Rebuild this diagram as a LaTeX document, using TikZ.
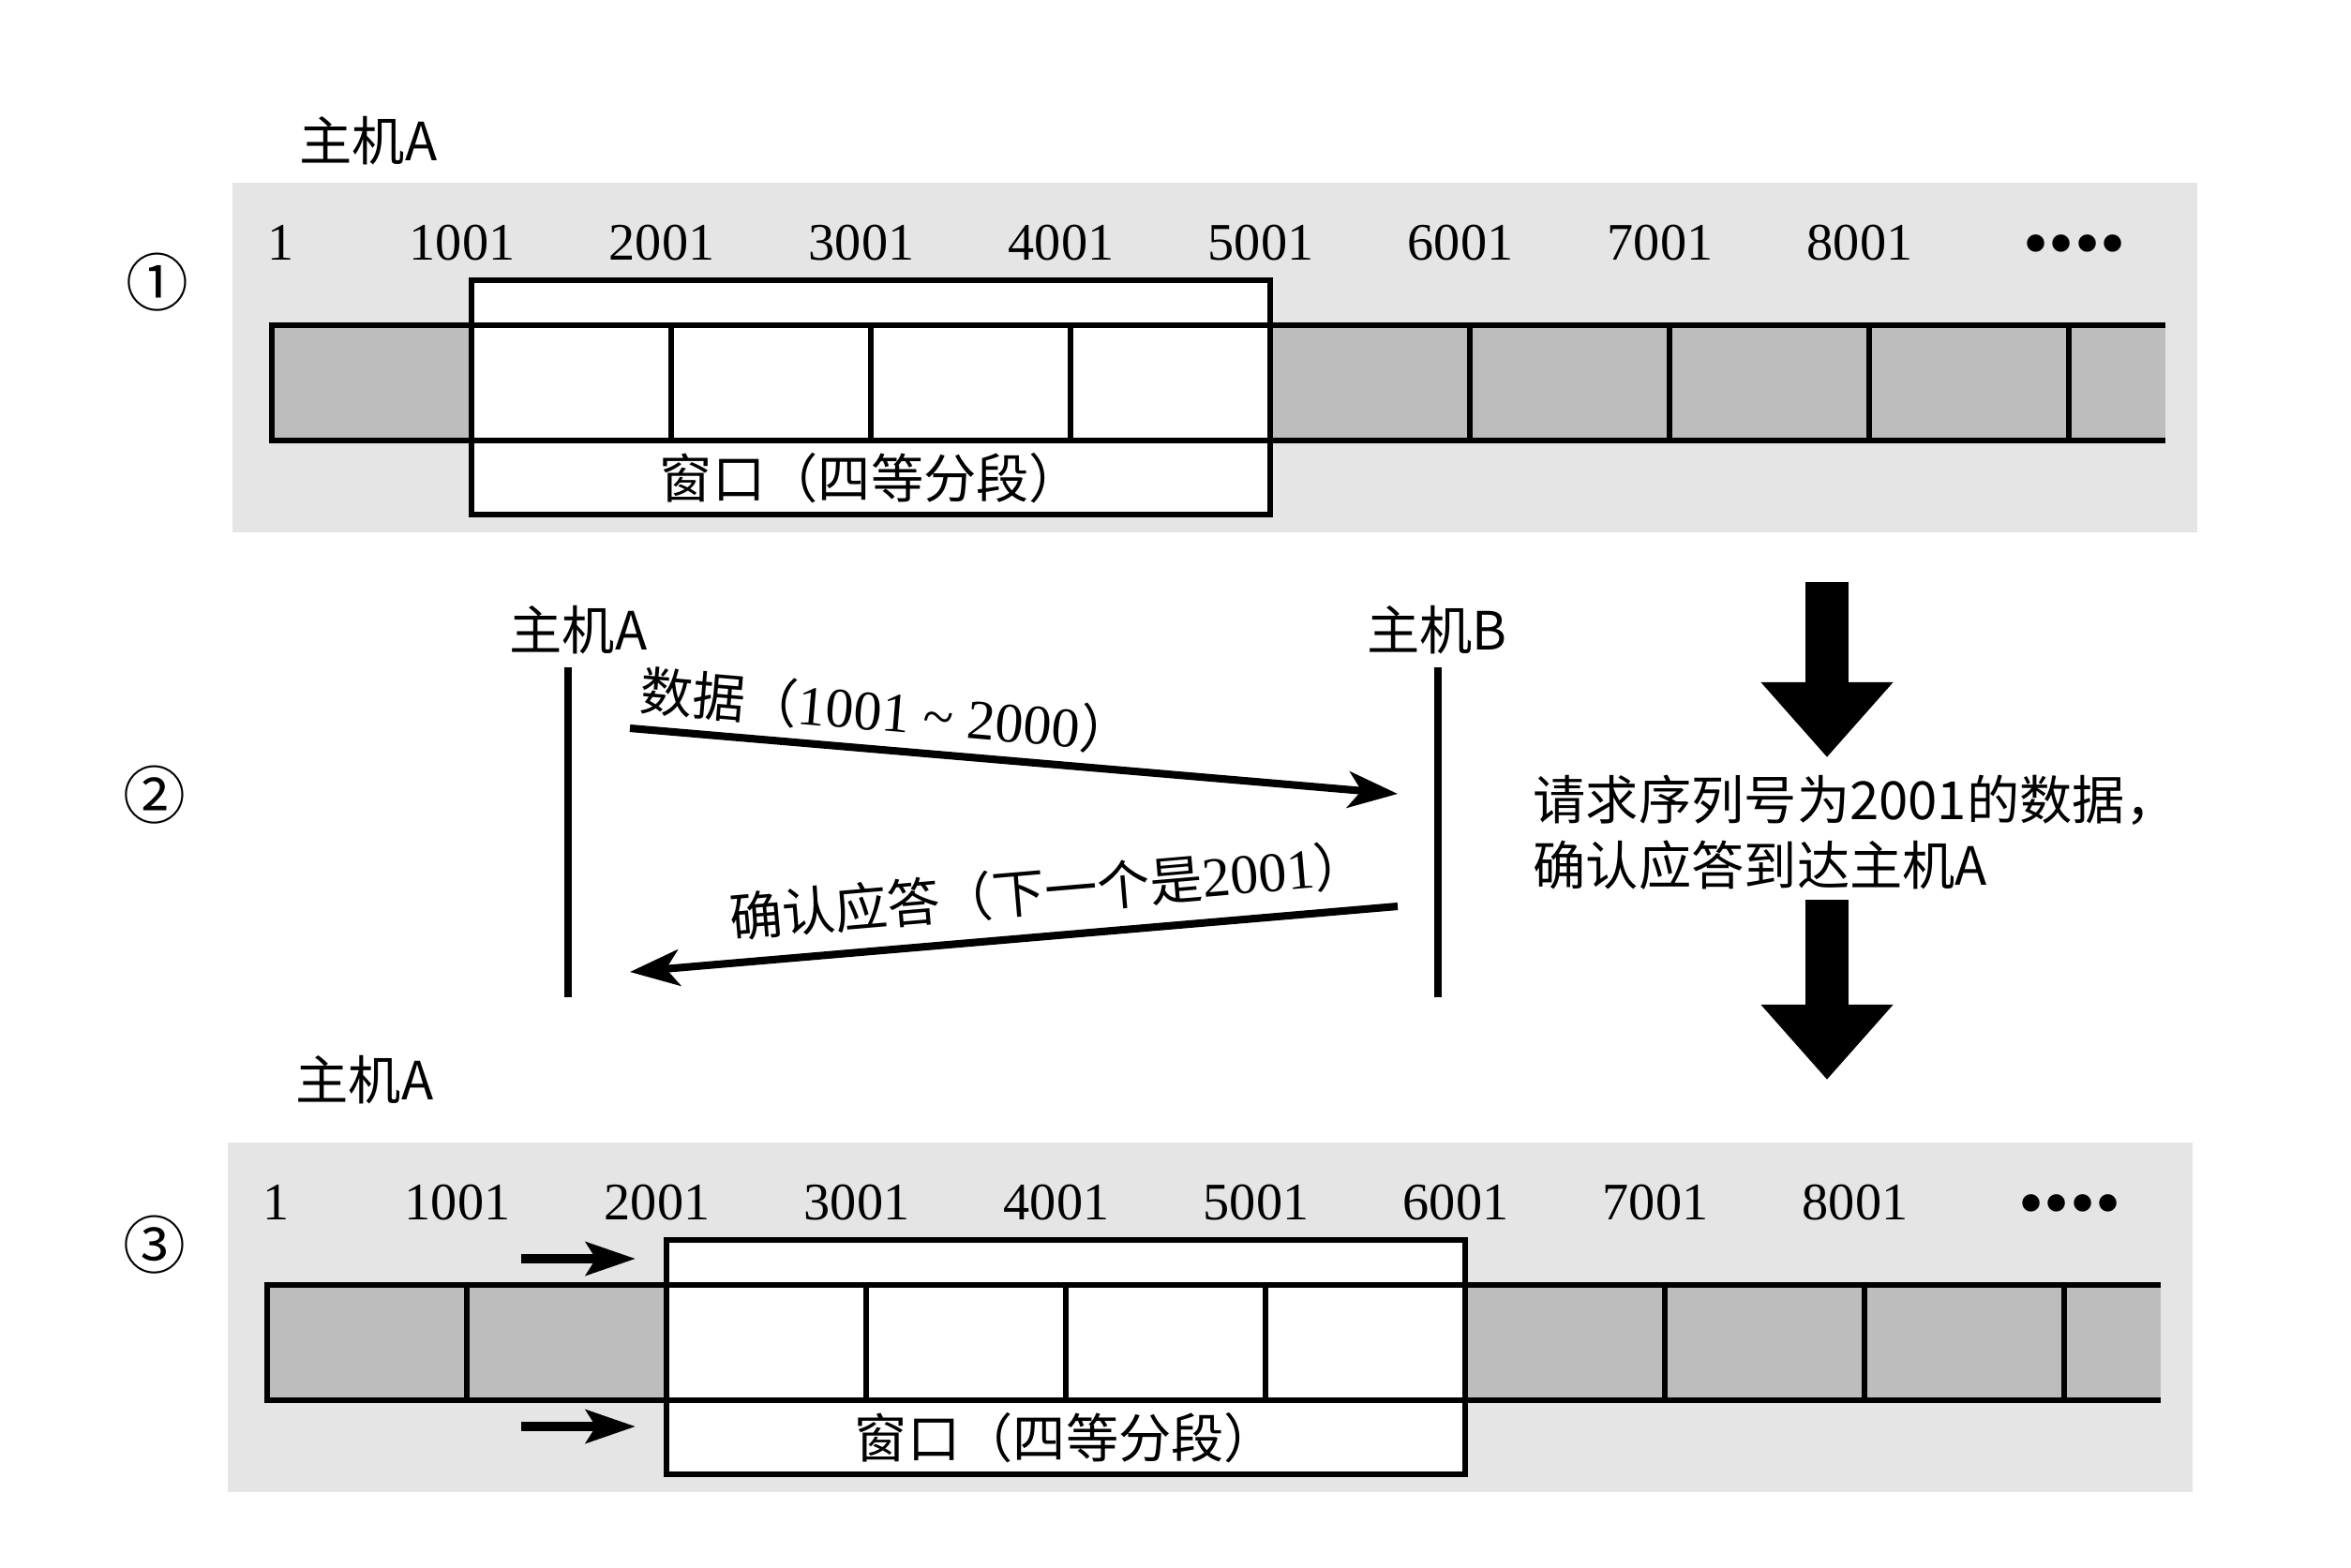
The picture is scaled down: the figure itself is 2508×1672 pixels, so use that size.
\documentclass[tikz,border=0pt]{standalone}
\usepackage{fontspec}
\setmainfont{Liberation Serif}
\newfontfamily\cjk{Noto Sans CJK SC}
\usepackage{tikz}
\usetikzlibrary{arrows.meta,positioning,calc}
\definecolor{paper}{gray}{0.90}
\definecolor{cellgray}{gray}{0.74}

\begin{document}
\begin{tikzpicture}[x=0.01cm, y=-0.01cm,
    numlbl/.style={font=\fontsize{16}{20}\selectfont, inner sep=0pt},
    cjklbl/.style={font=\cjk\fontsize{16}{20}\selectfont, inner sep=0pt},
    circnum/.style={font=\cjk\fontsize{19}{20}\selectfont, inner sep=0pt},
    cellline/.style={line width=1.7pt},
    winbox/.style={fill=white, line width=1.7pt},
    lifeline/.style={line width=2pt},
    msg/.style={line width=2.3pt, -{Stealth[length=15pt, width=11pt, inset=4pt]}},
    shiftarr/.style={line width=2.8pt, -{Stealth[length=15pt, width=10pt, inset=3pt]}},
    bigarr/.style={line width=13pt, -{Triangle[length=22.8pt, width=38.7pt]}}]
  \fill[white] (0,0) rectangle (2508,1672);
  \useasboundingbox (0,0) rectangle (2508,1672);

  % panels 1 and 3: byte stream with the window
  \foreach \dx/\dy/\w in {0/0/1, -5/1024/2} {
    \begin{scope}[shift={(\dx,\dy)}]
      \fill[paper] (248,195) rectangle (2344,568);
      \fill[cellgray] (290,347) rectangle (2310,470);
      \fill[white] (290+213*\w,299) rectangle (290+213*\w+852,549);
      \draw[cellline] (2310,347) -- (290,347) -- (290,470) -- (2310,470);
      \foreach \k in {1,...,9}
        \draw[cellline] (290+213*\k,347) -- (290+213*\k,470);
      \draw[cellline] (290+213*\w,299) rectangle (290+213*\w+852,549);
      \node[cjklbl] (win\w) at (290+213*\w+426,510) {窗口（四等分段）};
      \node[numlbl] (seq\w-0) at (300,259) {1};
      \foreach \n [count=\k] in {1001,2001,...,8001}
        \node[numlbl] (seq\w-\k) at (280+213*\k,259) {\n};
      \node[font=\fontsize{22}{22}\selectfont, inner sep=0pt] (more\w) at (2213,268) {••••};
    \end{scope}
  }

  \node[cjklbl] (hostA1) at (393,150) {主机A};
  \node[cjklbl] (hostA3) at (389,1152) {主机A};
  \node[circnum] (s1) at (168,301) {①};
  \node[circnum] (s2) at (165,848) {②};
  \node[circnum] (s3) at (165,1328) {③};

  % window moves right
  \coordinate (up1) at (556,1343);
  \coordinate (up2) at (678,1343);
  \coordinate (lo1) at (556,1522);
  \coordinate (lo2) at (678,1522);
  \draw[shiftarr] (up1) -- (up2);
  \draw[shiftarr] (lo1) -- (lo2);

  % panel 2: data and ack
  \node[cjklbl] (hostA2) at (617,672) {主机A};
  \node[cjklbl] (hostB2) at (1533,672) {主机B};
  \coordinate (la1) at (606,712);
  \coordinate (la2) at (606,1064);
  \coordinate (lb1) at (1534,712);
  \coordinate (lb2) at (1534,1064);
  \draw[lifeline] (la1) -- (la2);
  \draw[lifeline] (lb1) -- (lb2);
  \coordinate (datA) at (672,777);
  \coordinate (datB) at (1491,847);
  \coordinate (ackB) at (1491,967);
  \coordinate (ackA) at (672,1037);
  \draw[msg] (datA) -- node[cjklbl, sloped, above=3pt, pos=0.33] (datlbl) {数据（{\rmfamily\fontsize{17}{20}\selectfont 1001\ \textasciitilde\ 2000}）} (datB);
  \draw[msg] (ackB) -- node[cjklbl, sloped, above=5pt, pos=0.45] (acklbl) {确认应答（下一个是{\rmfamily\fontsize{17}{20}\selectfont 2001}）} (ackA);

  % right side
  \coordinate (big1s) at (1949,621);
  \coordinate (big1e) at (1949,808);
  \coordinate (big2s) at (1949,960);
  \coordinate (big2e) at (1949,1152);
  \draw[bigarr] (big1s) -- (big1e);
  \draw[bigarr] (big2s) -- (big2e);
  \node[cjklbl, align=left, anchor=west] (note) at (1635,888) {请求序列号为2001的数据，\\确认应答到达主机A};
\end{tikzpicture}
\end{document}
